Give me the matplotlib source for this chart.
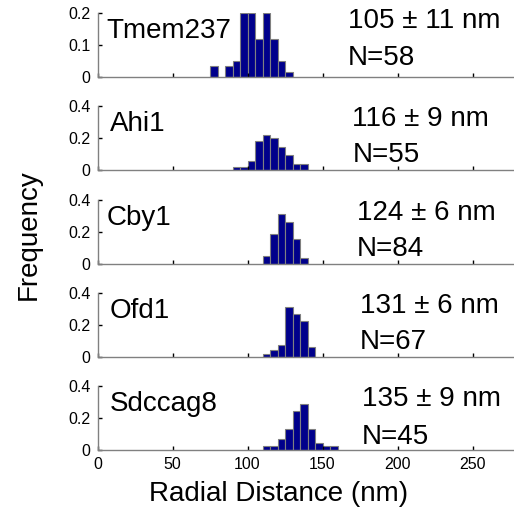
import matplotlib
matplotlib.use("Agg")
import matplotlib.pyplot as plt
import numpy as np

plt.rcParams['font.family'] = ['Liberation Sans', 'DejaVu Sans']

# histogram data (5 nm bins, left edges in nm)
names = ["Tmem237", "Ahi1", "Cby1", "Ofd1", "Sdccag8"]
stats = ["105 \u00b1 11 nm", "116 \u00b1 9 nm", "124 \u00b1 6 nm", "131 \u00b1 6 nm", "135 \u00b1 9 nm"]
counts = ["N=58", "N=55", "N=84", "N=67", "N=45"]

tmem237_edges = [75, 85, 90, 95, 100, 105, 110, 115, 120, 125]
tmem237_freq = [0.034, 0.034, 0.052, 0.2, 0.2, 0.121, 0.2, 0.121, 0.052, 0.017]

ahi1_edges = [90, 95, 100, 105, 110, 115, 120, 125, 130, 135]
ahi1_freq = [0.018, 0.018, 0.055, 0.182, 0.218, 0.2, 0.145, 0.091, 0.036, 0.036]

cby1_edges = [110, 115, 120, 125, 130, 135]
cby1_freq = [0.048, 0.19, 0.31, 0.262, 0.155, 0.036]

ofd1_edges = [110, 115, 120, 125, 130, 135, 140]
ofd1_freq = [0.015, 0.045, 0.075, 0.313, 0.269, 0.224, 0.06]

sdccag8_edges = [110, 115, 120, 125, 130, 135, 140, 145, 150, 155]
sdccag8_freq = [0.022, 0.022, 0.067, 0.133, 0.244, 0.289, 0.133, 0.044, 0.022, 0.022]

all_edges = [tmem237_edges, ahi1_edges, cby1_edges, ofd1_edges, sdccag8_edges]
all_freq = [tmem237_freq, ahi1_freq, cby1_freq, ofd1_freq, sdccag8_freq]
y_max = [0.2, 0.4, 0.4, 0.4, 0.4]

label_x = [6, 8, 6, 8, 8]
stat_x = [167, 170, 173, 175, 176]
stat_y = [0.77, 0.69, 0.69, 0.69, 0.69]
n_y = [0.19, 0.125, 0.125, 0.125, 0.1]

W, H = 514, 507
fig = plt.figure(figsize=(W / 100, H / 100), dpi=100)

left = 97.5 / W
width = (513 - 97.5) / W
baselines = [77.3, 170, 264, 356.7, 450]
panel_h = 64

for i in range(5):
    ax = fig.add_axes([left, 1 - baselines[i] / H, width, panel_h / H])
    ax.bar(all_edges[i], all_freq[i], width=5, align='edge',
           color='#00008b', edgecolor='#808080', linewidth=0.8)
    ax.set_xlim(0, 277)
    ax.set_ylim(0, y_max[i])
    ax.set_yticks([0, y_max[i] / 2, y_max[i]])
    ax.set_yticklabels(["0", f"{y_max[i] / 2:g}", f"{y_max[i]:g}"])
    ax.set_xticks([0, 50, 100, 150, 200, 250])
    if i < 4:
        ax.set_xticklabels([])
    for s in ['top', 'right']:
        ax.spines[s].set_visible(False)
    for s in ['left', 'bottom']:
        ax.spines[s].set_color('#808080')
        ax.spines[s].set_linewidth(1.0)
    ax.tick_params(direction='in', length=3, width=1, colors='black',
                   labelsize=11.5, pad=5)
    trans = ax.get_xaxis_transform()
    ax.text(label_x[i], 1 - 25 / panel_h, names[i], transform=trans,
            fontsize=20, va='baseline', ha='left')
    ax.text(stat_x[i], stat_y[i], stats[i], transform=trans,
            fontsize=20, va='baseline', ha='left', clip_on=False)
    ax.text(stat_x[i], n_y[i], counts[i], transform=trans,
            fontsize=20, va='baseline', ha='left', clip_on=False)

fig.text(29 / W, 1 - 235 / H, "Frequency", rotation=90, fontsize=20,
         ha='center', va='center')
fig.text(279 / W, 1 - 501 / H, "Radial Distance (nm)", fontsize=20,
         ha='center', va='baseline')

fig.savefig("out.png", dpi=100)
